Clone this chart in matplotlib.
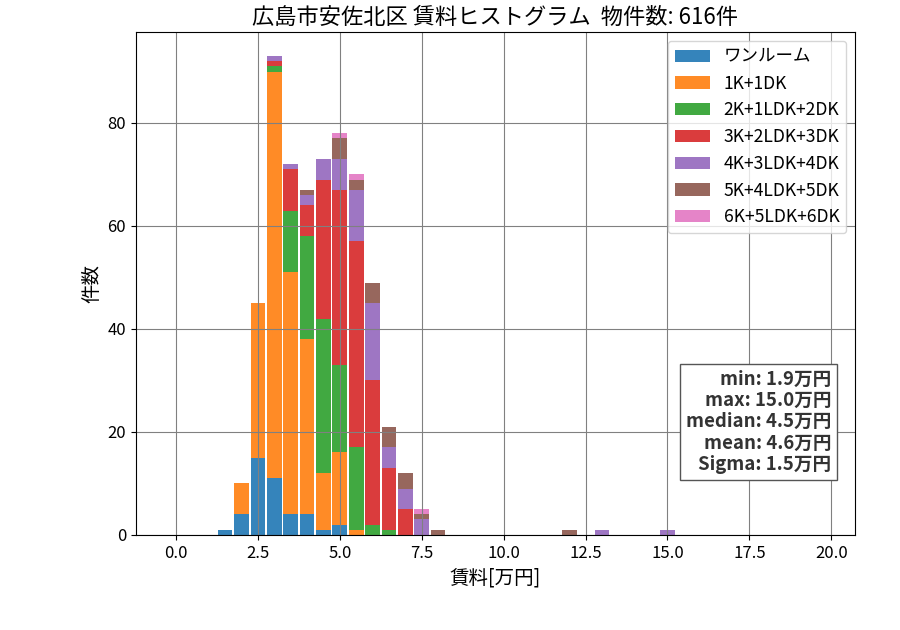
import numpy as np
import matplotlib
matplotlib.use("Agg")
import matplotlib.pyplot as plt

plt.rcParams['font.family'] = ['Noto Sans CJK JP', 'DejaVu Sans']

# bin centers (left-aligned 0.5万円 bins)
bin_centers = np.arange(0, 20, 0.5)

categories = ["ワンルーム", "1K+1DK", "2K+1LDK+2DK", "3K+2LDK+3DK",
              "4K+3LDK+4DK", "5K+4LDK+5DK", "6K+5LDK+6DK"]
colors = ["tab:blue", "tab:orange", "tab:green", "tab:red",
          "tab:purple", "tab:brown", "tab:pink"]

# counts per bin (bin center -> count)
one_room = {1.5: 1, 2.0: 4, 2.5: 15, 3.0: 11, 3.5: 4, 4.0: 4, 4.5: 1, 5.0: 2}
k1 = {2.0: 6, 2.5: 30, 3.0: 79, 3.5: 47, 4.0: 34, 4.5: 11, 5.0: 14, 5.5: 1}
k2 = {3.0: 1, 3.5: 12, 4.0: 20, 4.5: 30, 5.0: 17, 5.5: 16, 6.0: 2, 6.5: 1}
k3 = {3.0: 1, 3.5: 8, 4.0: 6, 4.5: 27, 5.0: 34, 5.5: 40, 6.0: 28, 6.5: 12, 7.0: 5}
k4 = {3.0: 1, 3.5: 1, 4.0: 2, 4.5: 4, 5.0: 6, 5.5: 10, 6.0: 15, 6.5: 4,
      7.0: 4, 7.5: 3, 13.0: 1, 15.0: 1}
k5 = {4.0: 1, 5.0: 4, 5.5: 2, 6.0: 4, 6.5: 4, 7.0: 3, 7.5: 1, 8.0: 1, 12.0: 1}
k6 = {5.0: 1, 5.5: 1, 7.5: 1}
series = [one_room, k1, k2, k3, k4, k5, k6]

title = "広島市安佐北区 賃料ヒストグラム  物件数: 616件"
stats_text = "min: 1.9万円\nmax: 15.0万円\nmedian: 4.5万円\nmean: 4.6万円\nSigma: 1.5万円"

fig = plt.figure(figsize=(9, 6.3), dpi=100)
ax = fig.add_axes([0.151, 0.151, 0.799, 0.798])

bottom = np.zeros(len(bin_centers))
for name, col, d in zip(categories, colors, series):
    vals = np.array([d.get(round(float(c), 1), 0) for c in bin_centers], dtype=float)
    ax.bar(bin_centers, vals, width=0.45, bottom=bottom, color=col, alpha=0.9,
           label=name)
    bottom += vals

ax.set_ylim(0, bottom.max() * 1.05)
ax.set_xticks(np.arange(0, 20.1, 2.5))
ax.grid(True, color='gray', linewidth=0.8)
ax.tick_params(labelsize=12)
ax.set_title(title, fontsize=16)
ax.set_xlabel("賃料[万円]", fontsize=14)
ax.set_ylabel("件数", fontsize=14)
leg = ax.legend(loc='upper right', fontsize=12.6)

ax.text(0.967, 0.225, stats_text, transform=ax.transAxes, ha='right', va='center',
        fontsize=13.4, fontweight='bold', color='#333333', linespacing=1.16,
        bbox=dict(boxstyle='square,pad=0.3', facecolor='white', edgecolor='#555555'))

fig.savefig("out.png", dpi=100)
